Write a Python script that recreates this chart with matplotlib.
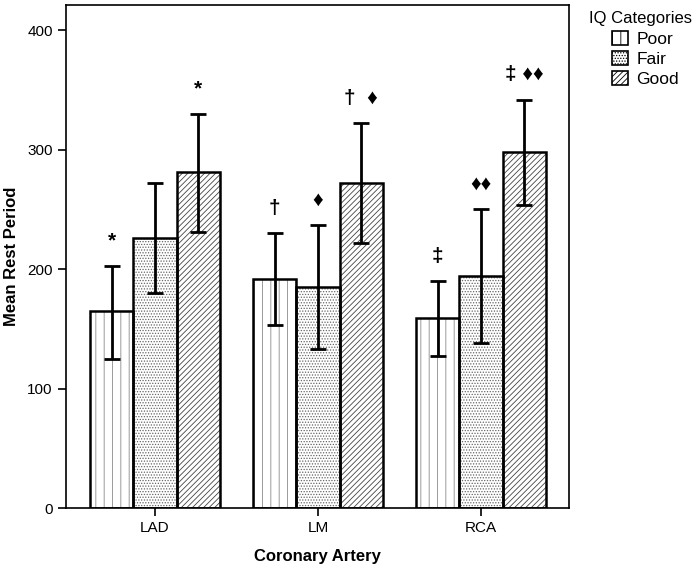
import matplotlib
matplotlib.use('Agg')
import matplotlib.pyplot as plt
import numpy as np

plt.rcParams['font.family'] = ['Liberation Sans', 'DejaVu Sans']
plt.rcParams['hatch.linewidth'] = 0.6

# Data
arteries = ['LAD', 'LM', 'RCA']
categories = ['Poor', 'Fair', 'Good']
means = {
    'Poor': [165, 192, 159],
    'Fair': [226, 185, 194],
    'Good': [281, 272, 298],
}
err_low = {
    'Poor': [125, 153, 127],
    'Fair': [180, 133, 138],
    'Good': [231, 222, 254],
}
err_high = {
    'Poor': [203, 230, 190],
    'Fair': [272, 237, 250],
    'Good': [330, 322, 342],
}
marks = {
    'Poor': ['*', '†', '‡'],
    'Fair': ['', '♦', '♦♦'],
    'Good': ['*', '†  ♦', '‡ ♦♦'],
}

hatches = {'Poor': '||', 'Fair': '......', 'Good': '//////'}
hatch_cols = {'Poor': '#8a8a8a', 'Fair': '#666666', 'Good': '#444444'}

fig = plt.figure(figsize=(6.94, 5.71), dpi=100)
ax = fig.add_axes([0.095, 0.110, 0.725, 0.881])

x = np.arange(len(arteries))
width = 0.265

handles = []
for i, cat in enumerate(categories):
    pos = x + (i - 1) * width
    vals = np.array(means[cat])
    lo = vals - np.array(err_low[cat])
    hi = np.array(err_high[cat]) - vals
    ax.bar(pos, vals, width, facecolor='white', edgecolor=hatch_cols[cat],
           hatch=hatches[cat], linewidth=0, zorder=2)
    ax.bar(pos, vals, width, facecolor='none', edgecolor='black',
           linewidth=1.8, zorder=3)
    handles.append(ax.bar([0], [0], facecolor='white', edgecolor=hatch_cols[cat],
                          hatch=hatches[cat], linewidth=1.2))
    ax.errorbar(pos, vals, yerr=[lo, hi], fmt='none', ecolor='black',
                elinewidth=2, capsize=6, capthick=2, zorder=4)
    for p, top, m in zip(pos, err_high[cat], marks[cat]):
        if m:
            ax.text(p, top + 13, m, ha='center', va='bottom', fontsize=15,
                    fontweight='bold', zorder=5)

ax.set_xlim(-0.546, 2.54)
ax.set_ylim(0, 421)
ax.set_yticks([0, 100, 200, 300, 400])
ax.set_xticks(x)
ax.set_xticklabels(arteries)
ax.tick_params(axis='both', labelsize=11, width=1.2, length=6, direction='out')
for s in ax.spines.values():
    s.set_linewidth(1.2)

ax.set_ylabel('Mean Rest Period', fontsize=12, fontweight='bold', labelpad=6)
ax.set_xlabel('Coronary Artery', fontsize=12, fontweight='bold', labelpad=10)

fig.text(589 / 694, 1 - 18 / 571, 'IQ Categories', ha='left', va='center',
         fontsize=12)
leg = fig.legend(handles, categories, loc='upper left',
                 bbox_to_anchor=(612 / 694, 1 - 31 / 571), frameon=False,
                 fontsize=12.5, handlelength=0.9, handleheight=0.9,
                 labelspacing=0.22, handletextpad=0.5, borderaxespad=0,
                 borderpad=0)
for h in leg.legend_handles:
    h.set_edgecolor('black')

fig.savefig('out.png', dpi=100)
